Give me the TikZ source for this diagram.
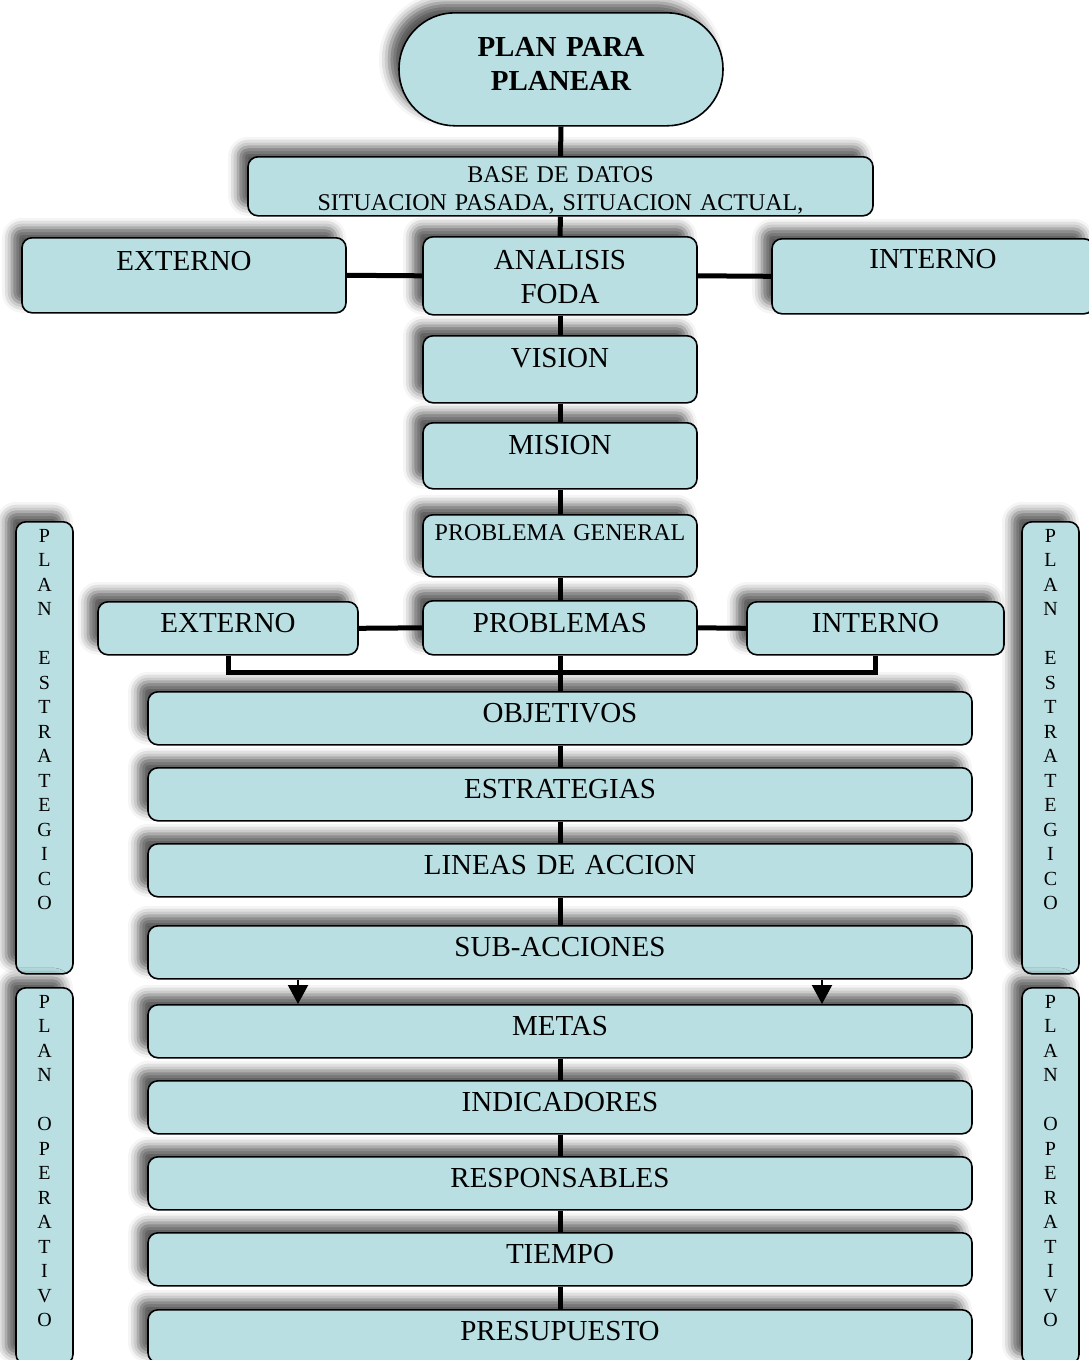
\documentclass[tikz,border=0pt]{standalone}
\usepackage{fontspec}
\setmainfont{Liberation Serif}
\usetikzlibrary{shadows.blur,arrows.meta}
\definecolor{boxfill}{RGB}{185,223,227}
\begin{document}
\begin{tikzpicture}[x=1pt,y=-1pt,
  box/.style={draw=black, line width=1.6pt, fill=boxfill, rounded corners=10pt,
    inner sep=0pt, align=center, anchor=north,
    font=\fontsize{29}{34}\selectfont,
    blur shadow={shadow xshift=-10pt, shadow yshift=10pt, shadow blur radius=10pt, shadow opacity=65}},
  mid/.style={box, text width=274pt},
  wide/.style={box, text width=824pt, text height=31pt, text depth=22pt},
  small/.style={font=\fontsize{24}{28}\selectfont},
  side/.style={box, text width=57pt, font=\fontsize{20}{24.5}\selectfont, text height=20.6pt},
  link/.style={line width=5pt},
  pointer/.style={line width=2pt, -{Triangle[width=20pt,length=19pt]}}
]
\useasboundingbox (0,0) rectangle (1088,1360);

% top of the chart
\node[box, rounded corners=56pt, text width=324pt, text height=43.6pt, text depth=69.4pt,
      font=\fontsize{29}{34}\selectfont\bfseries] (plan) at (561,12) {PLAN PARA\\PLANEAR};
\node[box, small, text width=625pt, text height=26pt, text depth=33pt] (base) at (560.5,156)
  {BASE DE DATOS\\SITUACION PASADA, SITUACION ACTUAL,};

% analysis row
\node[box, text width=324pt, text height=32.6pt, text depth=42.4pt] (ext1) at (184,237) {EXTERNO};
\node[mid, text height=32.6pt, text depth=45.4pt] (foda) at (560,236) {ANALISIS\\FODA};
\node[box, text width=322pt, text height=29.6pt, text depth=45.4pt] (int1) at (933,238) {INTERNO};

\node[mid, text height=31.6pt, text depth=35.4pt] (vision) at (560,335) {VISION};
\node[mid, text height=31.6pt, text depth=34.4pt] (mision) at (560,422) {MISION};
\node[mid, small, text height=26pt, text depth=36pt] (probgen) at (560,514) {PROBLEMA GENERAL};

% problems row
\node[box, text width=260pt, text height=30.6pt, text depth=22.4pt] (ext2) at (228,601) {EXTERNO};
\node[mid, text height=31.6pt, text depth=22.4pt] (probs) at (560,600) {PROBLEMAS};
\node[box, text width=257pt, text height=30.6pt, text depth=22.4pt] (int2) at (875.5,601) {INTERNO};

% strategic plan
\node[wide] (obj) at (560,691) {OBJETIVOS};
\node[wide] (estr) at (560,767) {ESTRATEGIAS};
\node[wide] (lineas) at (560,843) {LINEAS DE ACCION};
\node[wide] (sub) at (560,925) {SUB-ACCIONES};

% operative plan
\node[wide] (metas) at (560,1004) {METAS};
\node[wide] (ind) at (560,1080) {INDICADORES};
\node[wide] (resp) at (560,1156) {RESPONSABLES};
\node[wide] (tiempo) at (560,1232) {TIEMPO};
\node[wide] (presu) at (560,1309) {PRESUPUESTO};

% side labels
\node[side, text depth=431.4pt] (estL) at (44.5,521)
  {P\\L\\A\\N\\\mbox{}\\E\\S\\T\\R\\A\\T\\E\\G\\I\\C\\O};
\node[side, text depth=431.4pt] (estR) at (1050.5,521)
  {P\\L\\A\\N\\\mbox{}\\E\\S\\T\\R\\A\\T\\E\\G\\I\\C\\O};
\node[side, text depth=356pt] (opL) at (44.5,987)
  {P\\L\\A\\N\\\mbox{}\\O\\P\\E\\R\\A\\T\\I\\V\\O};
\node[side, text depth=356pt] (opR) at (1050.5,987)
  {P\\L\\A\\N\\\mbox{}\\O\\P\\E\\R\\A\\T\\I\\V\\O};

% connectors
\draw[link] (plan.south) -- (base.north);
\draw[link] (base.south) -- (foda.north);
\draw[link] (ext1.east) -- (foda.west);
\draw[link] (foda.east) -- (int1.west);
\draw[link] (foda.south) -- (vision.north);
\draw[link] (vision.south) -- (mision.north);
\draw[link] (mision.south) -- (probgen.north);
\draw[link] (probgen.south) -- (probs.north);
\draw[link] (ext2.east) -- (probs.west);
\draw[link] (probs.east) -- (int2.west);
\coordinate (busL) at (228,672);
\coordinate (busR) at (875.5,672);
\draw[link] (ext2.south) -- (busL) -- (busR) -- (int2.south);
\draw[link] (probs.south) -- (obj.north);
\draw[link] (obj.south) -- (estr.north);
\draw[link] (estr.south) -- (lineas.north);
\draw[link] (lineas.south) -- (sub.north);

\coordinate (arrL) at (298,0);
\coordinate (arrR) at (822,0);
\draw[pointer] (sub.south -| arrL) -- (metas.north -| arrL);
\draw[pointer] (sub.south -| arrR) -- (metas.north -| arrR);

\draw[link] (metas.south) -- (ind.north);
\draw[link] (ind.south) -- (resp.north);
\draw[link] (resp.south) -- (tiempo.north);
\draw[link] (tiempo.south) -- (presu.north);
\end{tikzpicture}
\end{document}
